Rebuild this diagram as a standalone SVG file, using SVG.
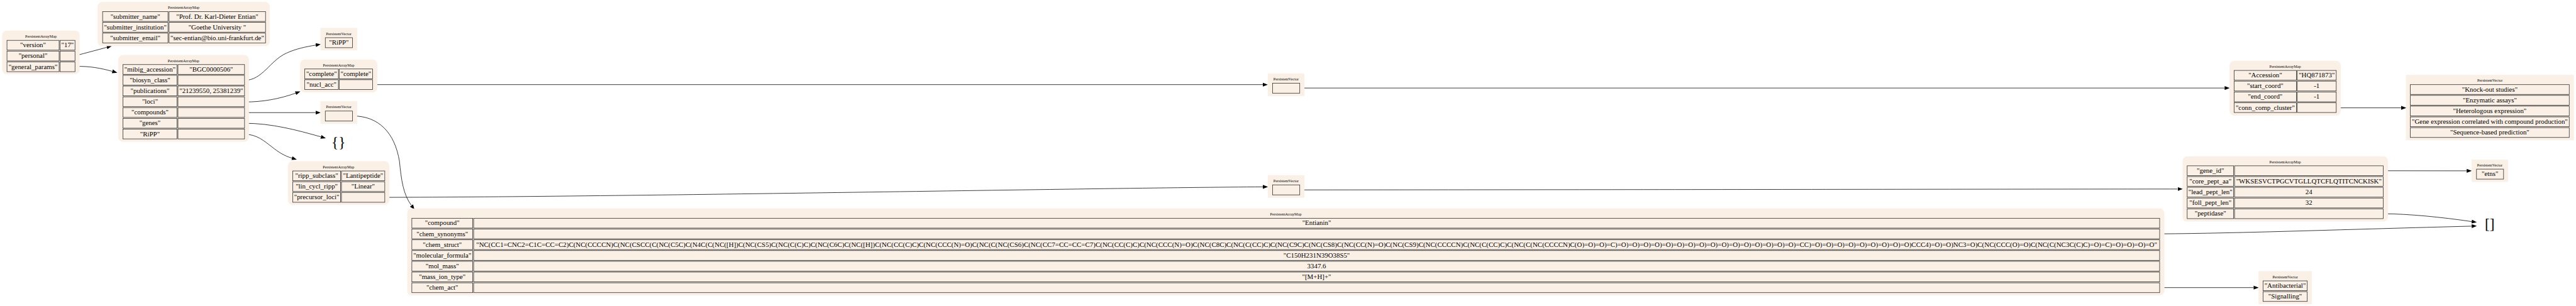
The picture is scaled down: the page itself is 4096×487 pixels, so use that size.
<svg xmlns="http://www.w3.org/2000/svg" width="4096" height="487" viewBox="0 0 4096 487">
<style>
.bg{fill:#FAF0E6}
.c{fill:#FAF0E6;stroke:#333;stroke-width:1.4}
.t{font-family:"Liberation Serif",serif;font-size:18.67px;text-anchor:middle;fill:#000}
.h{font-family:"Liberation Serif",serif;font-size:10.67px;text-anchor:middle;fill:#000}
.b{font-family:"Liberation Serif",serif;font-size:40px;text-anchor:middle;fill:#000}
.e{fill:none;stroke:#000;stroke-width:1.33}
</style>
<defs>
<marker id="ah" markerUnits="userSpaceOnUse" markerWidth="14" markerHeight="11" viewBox="0 0 13.3 10" refX="0" refY="5" orient="auto">
<path d="M0,0 L13.3,5 L0,10 z" fill="#000"/>
</marker>
</defs>
<rect width="4096" height="487" fill="#fff"/>
<g transform="scale(0.583808)">
<g id="edges">
<path class="e" marker-end="url(#ah)" d="M205,152 C235,144 262,137 291,129"/>
<path class="e" marker-end="url(#ah)" d="M205,181 C245,180 275,186 306,194.5"/>
<path class="e" marker-end="url(#ah)" d="M666,219 C715,219 735,165 780,145 C805,133 835,127 860,123"/>
<path class="e" marker-end="url(#ah)" d="M666,278 C715,278 760,270 805,254"/>
<path class="e" marker-end="url(#ah)" d="M666,307 L859.4,307"/>
<path class="e" marker-end="url(#ah)" d="M666,336 C740,336 810,355 874,373"/>
<path class="e" marker-end="url(#ah)" d="M666,366 C700,366 720,385 740,400 C760,416 775,425 795,431"/>
<path class="e" marker-end="url(#ah)" d="M1015,230.7 L3439.4,230.7"/>
<path class="e" marker-end="url(#ah)" d="M960,316 C1030,316 1075,360 1088,440 C1093,490 1098,530 1120.7,560.3"/>
<path class="e" marker-end="url(#ah)" d="M1048,538 C1700,537 3000,512 3439.4,509.4"/>
<path class="e" marker-end="url(#ah)" d="M3540,240 L6059,240"/>
<path class="e" marker-end="url(#ah)" d="M3540,517.7 C4500,517 5500,515.5 5931,515.3"/>
<path class="e" marker-end="url(#ah)" d="M6363,294 L6539.6,294"/>
<path class="e" marker-end="url(#ah)" d="M6491,465.5 L6718.4,465.7"/>
<path class="e" marker-end="url(#ah)" d="M6491,582.7 C6560,583 6650,592 6732,604"/>
<path class="e" marker-end="url(#ah)" d="M5882,637.5 C6100,636 6400,625 6732,616.5"/>
<path class="e" marker-end="url(#ah)" d="M5882,784 L6138,784"/>
</g>
<g id="n_root">
<rect class="bg" x="5.7" y="83.3" width="211.3" height="119" rx="13"/>
<text class="h" x="111.4" y="102.5">PersistentArrayMap</text>
<rect class="c" x="19" y="110" width="142" height="26.7"/><text class="t" x="90" y="129">"version"</text>
<rect class="c" x="163.6" y="110" width="40.7" height="26.7"/><text class="t" x="184" y="129">"17"</text>
<rect class="c" x="19" y="139.3" width="142" height="26.7"/><text class="t" x="90" y="158.3">"personal"</text>
<rect class="c" x="163.6" y="139.3" width="40.7" height="26.7"/>
<rect class="c" x="19" y="168.7" width="142" height="26.7"/><text class="t" x="90" y="187.7">"general_params"</text>
<rect class="c" x="163.6" y="168.7" width="40.7" height="26.7"/>
</g>
<g id="n_personal">
<rect class="bg" x="265.8" y="5" width="469" height="121" rx="13"/>
<text class="h" x="500.3" y="24.5">PersistentArrayMap</text>
<rect class="c" x="279.5" y="31.7" width="178" height="26.7"/><text class="t" x="368.5" y="50.7">"submitter_name"</text>
<rect class="c" x="460.4" y="31.7" width="262.8" height="26.7"/><text class="t" x="591.8" y="50.7">"Prof. Dr. Karl-Dieter Entian"</text>
<rect class="c" x="279.5" y="61" width="178" height="26.7"/><text class="t" x="368.5" y="80">"submitter_institution"</text>
<rect class="c" x="460.4" y="61" width="262.8" height="26.7"/><text class="t" x="591.8" y="80" xml:space="preserve">"Goethe University "</text>
<rect class="c" x="279.5" y="90.3" width="178" height="26.7"/><text class="t" x="368.5" y="109.3">"submitter_email"</text>
<rect class="c" x="460.4" y="90.3" width="262.8" height="26.7"/><text class="t" x="591.8" y="109.3">"sec-entian@bio.uni-frankfurt.de"</text>
</g>
<g id="n_general">
<rect class="bg" x="322" y="150" width="356" height="236.7" rx="13"/>
<text class="h" x="500" y="169">PersistentArrayMap</text>
<rect class="c" x="335" y="176" width="147" height="26.7"/><text class="t" x="408.5" y="195">"mibig_accession"</text>
<rect class="c" x="484.7" y="176" width="181.3" height="26.7"/><text class="t" x="575.3" y="195">"BGC0000506"</text>
<rect class="c" x="335" y="205.3" width="147" height="26.7"/><text class="t" x="408.5" y="224.3">"biosyn_class"</text>
<rect class="c" x="484.7" y="205.3" width="181.3" height="26.7"/>
<rect class="c" x="335" y="234.7" width="147" height="26.7"/><text class="t" x="408.5" y="253.7">"publications"</text>
<rect class="c" x="484.7" y="234.7" width="181.3" height="26.7"/><text class="t" x="575.3" y="253.7">"21239550, 25381239"</text>
<rect class="c" x="335" y="264" width="147" height="26.7"/><text class="t" x="408.5" y="283">"loci"</text>
<rect class="c" x="484.7" y="264" width="181.3" height="26.7"/>
<rect class="c" x="335" y="293.3" width="147" height="26.7"/><text class="t" x="408.5" y="312.3">"compounds"</text>
<rect class="c" x="484.7" y="293.3" width="181.3" height="26.7"/>
<rect class="c" x="335" y="322.7" width="147" height="26.7"/><text class="t" x="408.5" y="341.7">"genes"</text>
<rect class="c" x="484.7" y="322.7" width="181.3" height="26.7"/>
<rect class="c" x="335" y="352" width="147" height="26.7"/><text class="t" x="408.5" y="371">"RiPP"</text>
<rect class="c" x="484.7" y="352" width="181.3" height="26.7"/>
</g>
<g id="n_biosyn">
<rect class="bg" x="872.7" y="76" width="100" height="61.3"/>
<text class="h" x="922.7" y="95.3">PersistentVector</text>
<rect class="c" x="886" y="102.7" width="74" height="27.3"/><text class="t" x="923" y="121.8">"RiPP"</text>
</g>
<g id="n_loci">
<rect class="bg" x="817.3" y="162.3" width="210.4" height="89.7" rx="13"/>
<text class="h" x="922.5" y="181.5">PersistentArrayMap</text>
<rect class="c" x="830" y="188" width="91.7" height="26.7"/><text class="t" x="875.8" y="207">"complete"</text>
<rect class="c" x="923.7" y="188" width="91.3" height="26.7"/><text class="t" x="969.3" y="207">"complete"</text>
<rect class="c" x="830" y="217.3" width="91.7" height="26.7"/><text class="t" x="875.8" y="236.3">"nucl_acc"</text>
<rect class="c" x="923.7" y="217.3" width="91.3" height="26.7"/>
</g>
<g id="n_compounds">
<rect class="bg" x="872.7" y="276" width="100" height="61.3"/>
<text class="h" x="922.7" y="295.3">PersistentVector</text>
<rect class="c" x="886" y="302.7" width="74" height="27.3"/>
</g>
<g id="n_genes">
<text class="b" x="922" y="400.5">{}</text>
</g>
<g id="n_ripp">
<rect class="bg" x="784" y="439.3" width="276.5" height="119" rx="13"/>
<text class="h" x="922" y="458.5">PersistentArrayMap</text>
<rect class="c" x="797.5" y="466" width="130.2" height="26.7"/><text class="t" x="862.6" y="485">"ripp_subclass"</text>
<rect class="c" x="930" y="466" width="118" height="26.7"/><text class="t" x="989" y="485">"Lantipeptide"</text>
<rect class="c" x="797.5" y="495.3" width="130.2" height="26.7"/><text class="t" x="862.6" y="514.3">"lin_cycl_ripp"</text>
<rect class="c" x="930" y="495.3" width="118" height="26.7"/><text class="t" x="989" y="514.3">"Linear"</text>
<rect class="c" x="797.5" y="524.7" width="130.2" height="26.7"/><text class="t" x="862.6" y="543.7">"precursor_loci"</text>
<rect class="c" x="930" y="524.7" width="118" height="26.7"/>
</g>
<g id="n_nucl_acc">
<rect class="bg" x="3452.7" y="200" width="100" height="61.7"/>
<text class="h" x="3502.7" y="219.3">PersistentVector</text>
<rect class="c" x="3466" y="226.7" width="74" height="27.3"/>
</g>
<g id="n_precursor">
<rect class="bg" x="3452.7" y="477.7" width="100" height="61.3"/>
<text class="h" x="3502.7" y="497">PersistentVector</text>
<rect class="c" x="3466" y="504" width="74" height="27.3"/>
</g>
<g id="n_compound">
<rect class="bg" x="1109" y="568.3" width="4786" height="236.7" rx="13"/>
<text class="h" x="3502" y="587.3">PersistentArrayMap</text>
<rect class="c" x="1121.7" y="595" width="165.8" height="26.7"/><text class="t" x="1204.6" y="614">"compound"</text>
<rect class="c" x="1290" y="595" width="4592" height="26.7"/><text class="t" x="3586" y="614">"Entianin"</text>
<rect class="c" x="1121.7" y="624.3" width="165.8" height="26.7"/><text class="t" x="1204.6" y="643.3">"chem_synonyms"</text>
<rect class="c" x="1290" y="624.3" width="4592" height="26.7"/>
<rect class="c" x="1121.7" y="653.7" width="165.8" height="26.7"/><text class="t" x="1204.6" y="672.7">"chem_struct"</text>
<rect class="c" x="1290" y="653.7" width="4592" height="26.7"/><text class="t" x="3586" y="672.7" textLength="4578" lengthAdjust="spacingAndGlyphs">"NC(CC1=CNC2=C1C=CC=C2)C(NC(CCCCN)C(NC(CSCC(C(NC(C5C)C(N4C(C(NC([H])C(NC(CS5)C(NC(C(C)C)C(NC(C6C)C(NC([H])C(NC(CC(C)C)C(NC(CCC(N)=O)C(NC(C(NC(CS6)C(NC(CC7=CC=CC=C7)C(NC(CC(C)C)C(NC(CCC(N)=O)C(NC(C8C)C(NC(C(CC)C)C(NC(C9C)C(NC(CS8)C(NC(CC(N)=O)C(NC(CS9)C(NC(CCCCN)C(NC(C(CC)C)C(NC(C(NC(CCCCN)C(O)=O)=O)=C)=O)=O)=O)=O)=O)=O)=O)=O)=O)=O)=O)=O)=O)=O)=O)=O)=CC)=O)=O)=O)=O)=O)=O)=O)=O)=O)CCC4)=O)=O)NC3=O)C(NC(CCC(O)=O)C(NC(C(NC3C(C)C)=O)=C)=O)=O)=O)=O"</text>
<rect class="c" x="1121.7" y="683" width="165.8" height="26.7"/><text class="t" x="1204.6" y="702">"molecular_formula"</text>
<rect class="c" x="1290" y="683" width="4592" height="26.7"/><text class="t" x="3586" y="702">"C150H231N39O38S5"</text>
<rect class="c" x="1121.7" y="712.3" width="165.8" height="26.7"/><text class="t" x="1204.6" y="731.3">"mol_mass"</text>
<rect class="c" x="1290" y="712.3" width="4592" height="26.7"/><text class="t" x="3586" y="731.3">3347.6</text>
<rect class="c" x="1121.7" y="741.7" width="165.8" height="26.7"/><text class="t" x="1204.6" y="760.7">"mass_ion_type"</text>
<rect class="c" x="1290" y="741.7" width="4592" height="26.7"/><text class="t" x="3586" y="760.7">"[M+H]+"</text>
<rect class="c" x="1121.7" y="771" width="165.8" height="26.7"/><text class="t" x="1204.6" y="790">"chem_act"</text>
<rect class="c" x="1290" y="771" width="4592" height="26.7"/>
</g>
<g id="n_accession">
<rect class="bg" x="6072.3" y="165.7" width="303" height="149.3" rx="13"/>
<text class="h" x="6223.8" y="185">PersistentArrayMap</text>
<rect class="c" x="6084.8" y="192" width="169.9" height="26.7"/><text class="t" x="6169.7" y="211">"Accession"</text>
<rect class="c" x="6256.8" y="192" width="106.2" height="26.7"/><text class="t" x="6309.9" y="211">"HQ871873"</text>
<rect class="c" x="6084.8" y="221.3" width="169.9" height="26.7"/><text class="t" x="6169.7" y="240.3">"start_coord"</text>
<rect class="c" x="6256.8" y="221.3" width="106.2" height="26.7"/><text class="t" x="6309.9" y="240.3">-1</text>
<rect class="c" x="6084.8" y="250.7" width="169.9" height="26.7"/><text class="t" x="6169.7" y="269.7">"end_coord"</text>
<rect class="c" x="6256.8" y="250.7" width="106.2" height="26.7"/><text class="t" x="6309.9" y="269.7">-1</text>
<rect class="c" x="6084.8" y="280" width="169.9" height="26.7"/><text class="t" x="6169.7" y="299">"conn_comp_cluster"</text>
<rect class="c" x="6256.8" y="280" width="106.2" height="26.7"/>
</g>
<g id="n_evidence">
<rect class="bg" x="6552.9" y="204" width="457.3" height="178.3"/>
<text class="h" x="6781.5" y="223">PersistentVector</text>
<rect class="c" x="6564.8" y="230.7" width="432.8" height="26.7"/><text class="t" x="6781.2" y="249.7">"Knock-out studies"</text>
<rect class="c" x="6564.8" y="260" width="432.8" height="26.7"/><text class="t" x="6781.2" y="279">"Enzymatic assays"</text>
<rect class="c" x="6564.8" y="289.3" width="432.8" height="26.7"/><text class="t" x="6781.2" y="308.3">"Heterologous expression"</text>
<rect class="c" x="6564.8" y="318.7" width="432.8" height="26.7"/><text class="t" x="6781.2" y="337.7">"Gene expression correlated with compound production"</text>
<rect class="c" x="6564.8" y="348" width="432.8" height="26.7"/><text class="t" x="6781.2" y="367">"Sequence-based prediction"</text>
</g>
<g id="n_precursor_map">
<rect class="bg" x="5944.4" y="426" width="559.6" height="178" rx="13"/>
<text class="h" x="6224" y="445">PersistentArrayMap</text>
<rect class="c" x="5957" y="452" width="126.6" height="26.7"/><text class="t" x="6020.3" y="471">"gene_id"</text>
<rect class="c" x="6086" y="452" width="405" height="26.7"/>
<rect class="c" x="5957" y="481.3" width="126.6" height="26.7"/><text class="t" x="6020.3" y="500.3">"core_pept_aa"</text>
<rect class="c" x="6086" y="481.3" width="405" height="26.7"/><text class="t" x="6288.5" y="500.3">"WKSESVCTPGCVTGLLQTCFLQTITCNCKISK"</text>
<rect class="c" x="5957" y="510.7" width="126.6" height="26.7"/><text class="t" x="6020.3" y="529.7">"lead_pept_len"</text>
<rect class="c" x="6086" y="510.7" width="405" height="26.7"/><text class="t" x="6288.5" y="529.7">24</text>
<rect class="c" x="5957" y="540" width="126.6" height="26.7"/><text class="t" x="6020.3" y="559">"foll_pept_len"</text>
<rect class="c" x="6086" y="540" width="405" height="26.7"/><text class="t" x="6288.5" y="559">32</text>
<rect class="c" x="5957" y="569.3" width="126.6" height="26.7"/><text class="t" x="6020.3" y="588.3">"peptidase"</text>
<rect class="c" x="6086" y="569.3" width="405" height="26.7"/>
</g>
<g id="n_gene_id">
<rect class="bg" x="6731.7" y="435" width="99.3" height="61"/>
<text class="h" x="6781.3" y="454.5">PersistentVector</text>
<rect class="c" x="6745" y="461" width="73.7" height="27.3"/><text class="t" x="6781.8" y="480.3">"etns"</text>
</g>
<g id="n_empty">
<text class="b" x="6781" y="624">[]</text>
</g>
<g id="n_chem_act">
<rect class="bg" x="6151.3" y="739" width="145.4" height="90.3"/>
<text class="h" x="6224" y="758.3">PersistentVector</text>
<rect class="c" x="6163.6" y="765.7" width="120.4" height="26.7"/><text class="t" x="6223.8" y="784.7">"Antibacterial"</text>
<rect class="c" x="6163.6" y="795" width="120.4" height="26.7"/><text class="t" x="6223.8" y="814">"Signalling"</text>
</g>
</g>
</svg>
